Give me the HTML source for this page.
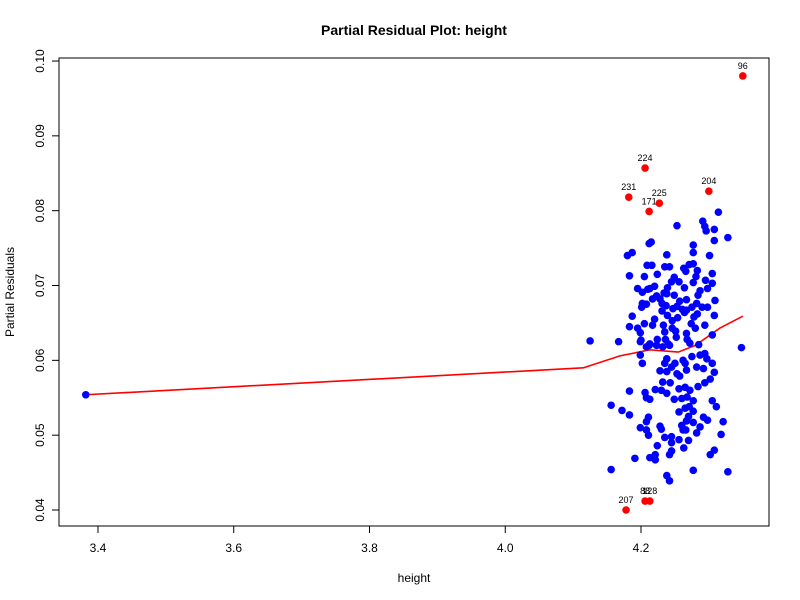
<!DOCTYPE html>
<html><head><meta charset="utf-8"><style>
body{margin:0;background:#fff}
svg{display:block;font-family:"Liberation Sans",sans-serif}
</style></head><body>
<svg id="chart" width="800" height="600">
<rect x="0" y="0" width="800" height="600" fill="#fff"/>
<text x="414" y="35" text-anchor="middle" font-size="14" font-weight="bold">Partial Residual Plot: height</text>
<text x="414" y="582" text-anchor="middle" font-size="12">height</text>
<text transform="translate(14,292) rotate(-90)" text-anchor="middle" font-size="12">Partial Residuals</text>
<rect x="59" y="58" width="710" height="468" fill="none" stroke="#000" stroke-width="1"/>
<g id="xaxis"></g>
<g id="yaxis"></g>
<g id="line"></g>
<g id="pts"></g>
</svg>
<script>
const xTicks=[3.4,3.6,3.8,4.0,4.2];
const xTickLabels=["3.4","3.6","3.8","4.0","4.2"];
const yTicks=[0.04,0.05,0.06,0.07,0.08,0.09,0.10];
const yTickLabels=["0.04","0.05","0.06","0.07","0.08","0.09","0.10"];
const blueX=[4.314,4.253,4.291,4.294,4.296,4.308,4.328,4.308,4.215,4.212,4.277,4.180,4.187,4.238,4.277,4.301,4.209,4.216,4.235,4.242,4.263,4.271,4.277,4.266,4.283,4.305,4.183,4.205,4.224,4.249,4.256,4.245,4.239,4.281,4.295,4.305,4.277,4.195,4.202,4.210,4.213,4.220,4.264,4.287,4.298,4.234,4.238,4.249,4.223,4.228,4.217,4.257,4.267,4.284,4.282,4.309,4.202,4.208,4.201,4.231,4.237,4.253,4.261,4.267,4.275,4.290,4.298,4.247,4.231,4.278,4.283,4.187,4.220,4.239,4.246,4.254,4.264,4.308,4.205,4.183,4.195,4.217,4.233,4.246,4.274,4.280,4.294,4.199,4.235,4.251,4.267,4.305,4.167,4.200,4.224,4.236,4.252,4.268,4.285,4.348,4.212,4.242,4.232,4.208,4.272,
4.199,4.213,4.223,4.240,4.199,4.238,4.250,4.262,4.275,4.287,4.294,4.297,4.202,4.235,4.245,4.265,4.282,4.292,4.305,4.228,4.238,4.267,4.308,4.253,4.257,4.302,4.294,4.232,4.243,4.183,4.206,4.221,4.230,4.238,4.256,4.265,4.272,4.284,4.213,4.208,4.249,4.260,4.268,4.277,4.305,4.311,4.156,4.172,4.183,4.256,4.265,4.271,4.277,4.270,4.267,4.260,4.277,4.287,4.292,4.298,4.321,4.211,4.208,4.199,4.228,4.230,4.208,4.211,4.262,4.266,4.282,4.318,4.235,4.245,4.256,4.270,4.245,4.224,4.263,4.308,4.302,4.245,4.242,4.221,4.213,4.191,4.221,4.156,4.277,4.328,4.238,4.242,4.125,3.382];
const blueY=[.0798,.0780,.0786,.0779,.0773,.0775,.0764,.0760,.0758,.0756,.0754,.0740,.0744,.0741,.0744,.0740,.0727,.0727,.0725,.0725,.0723,.0728,.0729,.0719,.0720,.0716,.0713,.0712,.0715,.0711,.0705,.0705,.0697,.0712,.0707,.0703,.0704,.0696,.0691,.0695,.0696,.0699,.0697,.0693,.0696,.0690,.0689,.0687,.0686,.0682,.0682,.0679,.0681,.0687,.0676,.0680,.0676,.0675,.0671,.0676,.0673,.0672,.0668,.0667,.0671,.0671,.0671,.0669,.0666,.0658,.0662,.0659,.0655,.0660,.0653,.0657,.0664,.0660,.0649,.0645,.0643,.0647,.0647,.0643,.0649,.0643,.0647,.0637,.0638,.0639,.0636,.0634,.0625,.0627,.0628,.0628,.0631,.0628,.0621,.0617,.0620,.0620,.0618,.0618,.0623,
.0625,.0622,.0620,.0622,.0607,.0602,.0596,.0600,.0605,.0607,.0609,.0602,.0596,.0596,.0591,.0596,.0591,.0589,.0596,.0586,.0585,.0587,.0584,.0582,.0579,.0575,.0570,.0571,.0570,.0559,.0557,.0561,.0560,.0556,.0562,.0564,.0560,.0565,.0548,.0550,.0548,.0549,.0551,.0546,.0546,.0538,.0540,.0533,.0527,.0531,.0536,.0538,.0532,.0525,.0519,.0513,.0517,.0511,.0524,.0520,.0518,.0524,.0518,.0510,.0512,.0508,.0507,.0500,.0507,.0507,.0503,.0501,.0497,.0498,.0494,.0493,.0490,.0486,.0483,.0480,.0474,.0479,.0474,.0474,.0470,.0469,.0467,.0454,.0453,.0451,.0446,.0439,.0626,.0554];
const redX=[4.350,4.206,4.300,4.182,4.227,4.212,4.178,4.206,4.213];
const redY=[.0980,.0857,.0826,.0818,.0810,.0799,.0400,.0412,.0412];
const redLabels=["96","224","204","231","225","171","207","88","128"];
const lineX=[3.382,4.115,4.169,4.213,4.255,4.280,4.316,4.350];
const lineY=[.0554,.0590,.0606,.0614,.0611,.0620,.0643,.0659];

const NS="http://www.w3.org/2000/svg";
function sx(v){return 98+(v-3.4)*678.75;}
function sy(v){return 510-(v-0.04)*7483;}
function mk(tag,attrs,parent){const e=document.createElementNS(NS,tag);for(const k in attrs)e.setAttribute(k,attrs[k]);parent.appendChild(e);return e;}
const xa=document.getElementById('xaxis'),ya=document.getElementById('yaxis');
mk('line',{x1:sx(xTicks[0]),x2:sx(xTicks[xTicks.length-1]),y1:526,y2:526,stroke:'#000'},xa);
xTicks.forEach((t,i)=>{
  const l=mk('line',{x1:sx(t),x2:sx(t),y1:526,y2:533,stroke:'#000'},xa);
  
  
  const tx=mk('text',{x:sx(t),y:552,'text-anchor':'middle','font-size':12},xa);
  tx.textContent=xTickLabels[i];
  
  
});
mk('line',{x1:59,x2:59,y1:sy(yTicks[0]),y2:sy(yTicks[yTicks.length-1]),stroke:'#000'},ya);
yTicks.forEach((t,i)=>{
  const l=mk('line',{x1:52,x2:59,y1:sy(t),y2:sy(t),stroke:'#000'},ya);
  
  
  const tx=mk('text',{transform:`translate(44,${sy(t)}) rotate(-90)`,'text-anchor':'middle','font-size':12},ya);
  tx.textContent=yTickLabels[i];
  
  
});
const pts=document.getElementById('pts');
blueX.forEach((x,i)=>{
  const c=mk('circle',{cx:sx(x),cy:sy(blueY[i]),r:3.8,fill:'#0000ff'},pts);
  
  
});
const ln=document.getElementById('line');
const p=mk('polyline',{points:lineX.map((x,i)=>sx(x)+','+sy(lineY[i])).join(' '),fill:'none',stroke:'#ff0000','stroke-width':1.6},ln);


redX.forEach((x,i)=>{
  const c=mk('circle',{cx:sx(x),cy:sy(redY[i]),r:3.8,fill:'#ff0000'},pts);
  
  
  const t=mk('text',{x:sx(x),y:sy(redY[i])-7,'text-anchor':'middle','font-size':9},pts);
  t.textContent=redLabels[i];
  
  
});
</script>
</body></html>
